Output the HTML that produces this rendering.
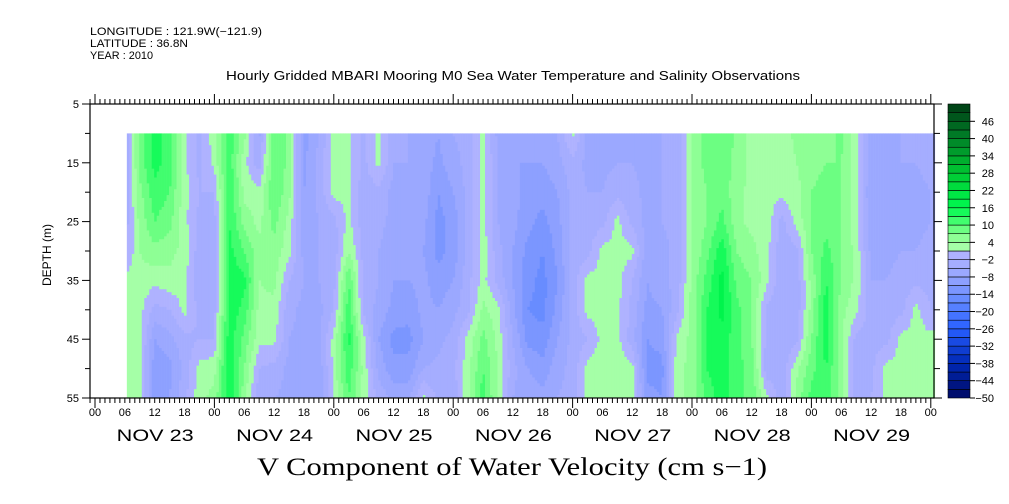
<!DOCTYPE html>
<html><head><meta charset="utf-8"><style>
body{margin:0;background:#fff}
svg{display:block;font-family:"Liberation Sans",sans-serif}
</style></head><body>
<svg id="chart" width="1009" height="504" viewBox="0 0 1009 504">
<g id="info" font-size="11" fill="#000">
<text x="90" y="35" textLength="172" lengthAdjust="spacingAndGlyphs">LONGITUDE : 121.9W(−121.9)</text>
<text x="90" y="47" textLength="98" lengthAdjust="spacingAndGlyphs">LATITUDE : 36.8N</text>
<text x="90" y="59" textLength="63" lengthAdjust="spacingAndGlyphs">YEAR : 2010</text>
</g>
<text x="226" y="80" font-size="12.5" textLength="574" lengthAdjust="spacingAndGlyphs">Hourly Gridded MBARI Mooring M0 Sea Water Temperature and Salinity Observations</text>
<g id="heat"></g>
<g id="axes"></g>
<g id="cbar"></g>
<text x="257" y="475" font-size="25" textLength="510" lengthAdjust="spacingAndGlyphs" font-family="'Liberation Serif',serif">V Component of Water Velocity (cm s−1)</text>
<text transform="translate(51,255) rotate(-90)" font-size="12" text-anchor="middle">DEPTH (m)</text>
</svg>
<script>
const hours=[6,9,12,15,18,21,24,27,30,33,36,39,42,45,48,51,54,57,60,63,66,69,72,75,78,81,84,87,90,93,96,99,102,105,108,111,114,117,120,123,126,129,132,135,138,141,144,147,150,153,156,159,162,165,168];
const depths=[10,15,20,25,30,35,40,45,50,55];
const vGrid=[
[-6,-5,-5,-4,-3,2,2,2,3,3],
[8,8,6,5,4,3,2,2,2,3],
[14,14,12,10,6,2,-3,-8,-10,-10],
[12,12,10,8,5,3,-2,-6,-9,-8],
[2,2,2,2,3,2,2,-3,-4,-3],
[-3,-3,-2,-3,-4,-5,-3,-2,2,3],
[3,2,-2,-3,-4,-5,-3,-2,3,5],
[12,12,13,13,14,15,15,15,16,16],
[5,2,3,6,10,14,12,9,7,5],
[-6,-4,2,3,5,4,3,2,-2,-4],
[10,10,10,8,6,5,3,2,-3,-5],
[6,6,5,3,2,-2,-4,-5,-6,-6],
[-9,-9,-8,-7,-6,-5,-6,-6,-5,-6],
[-5,-4,-4,-5,-5,-5,-6,-6,-7,-7],
[2,2,2,-3,-4,-3,-2,2,2,2],
[2,2,2,2,4,10,12,14,12,10],
[-3,-3,-4,-4,-3,-3,-3,2,3,3],
[2,2,-3,-4,-5,-5,-6,-8,-6,-3],
[-5,-5,-6,-6,-7,-8,-9,-12,-10,-6],
[-5,-5,-5,-6,-6,-8,-10,-12,-10,-6],
[-6,-6,-6,-7,-8,-7,-7,-8,-5,2],
[-8,-9,-11,-12,-12,-10,-8,-6,-4,-3],
[-5,-6,-8,-10,-10,-8,-6,-4,-3,-4],
[-4,-4,-4,-4,-4,-3,-3,2,3,3],
[2,2,2,2,3,2,5,8,10,12],
[-6,-5,-5,-5,-4,-3,2,3,4,3],
[-7,-8,-7,-7,-8,-8,-7,-5,-4,-5],
[-6,-8,-9,-10,-12,-13,-14,-12,-8,-6],
[-7,-8,-10,-12,-14,-15,-15,-13,-10,-7],
[-5,-6,-8,-9,-10,-11,-10,-8,-6,-5],
[2,-3,-4,-4,-4,-4,-4,-4,-4,-4],
[-6,-6,-5,-4,-3,2,2,-2,2,2],
[-7,-6,-5,-3,2,2,2,2,3,3],
[-6,-5,-3,2,2,2,2,2,3,3],
[-6,-5,-4,-3,2,-2,-3,-4,2,3],
[-7,-6,-6,-6,-7,-8,-9,-11,-12,-10],
[-5,-5,-5,-5,-6,-6,-8,-10,-12,-11],
[-4,-4,-4,-4,-4,-4,-3,2,3,3],
[5,5,4,4,4,5,5,5,5,5],
[8,8,7,7,9,11,13,13,13,11],
[10,9,9,11,15,17,17,15,15,15],
[6,6,5,5,7,9,11,11,11,11],
[3,3,3,3,5,7,7,7,9,9],
[2,2,2,3,2,2,-3,-3,-4,2],
[2,2,2,-3,-4,-4,-5,-5,-4,-4],
[5,4,3,2,-3,-4,-4,-3,3,5],
[5,5,7,7,7,5,5,7,9,11],
[5,7,9,9,11,13,15,15,13,13],
[8,7,7,7,7,7,5,5,5,5],
[2,2,2,2,3,3,2,-3,-4,-4],
[-6,-7,-8,-7,-6,-5,-4,-3,-3,-2],
[-6,-7,-8,-7,-6,-5,-4,-3,2,2],
[-5,-5,-6,-6,-5,-4,-3,2,2,2],
[-5,-5,-6,-6,-5,-3,2,2,2,2],
[-4,-4,-5,-5,-4,-3,-2,2,2,2]];
const dayLabels=["NOV 23","NOV 24","NOV 25","NOV 26","NOV 27","NOV 28","NOV 29"];
const hourLabels=["00","06","12","18"];
const depthTicks=[5,15,25,35,45,55];
const cbarLabels=[46,40,34,28,22,16,10,4,-2,-8,-14,-20,-26,-32,-38,-44,-50];

const NS="http://www.w3.org/2000/svg";
const X0=95,PXH=119.4/24,Y0=104,PXD=(398-104)/50;
const xS=h=>X0+h*PXH, yS=d=>Y0+(d-5)*PXD;
function mk(p,tag,at){const e=document.createElementNS(NS,tag);for(const k in at)e.setAttribute(k,at[k]);p.appendChild(e);return e;}
function lerp(a,b,t){return a+(b-a)*t;}
function mixc(c1,c2,t){return [0,1,2].map(i=>Math.round(lerp(c1[i],c2[i],t)));}
const gStops=[[1,[176,255,176]],[7,[130,255,140]],[16,[0,250,80]],[28,[0,200,50]],[40,[0,130,40]],[52,[0,60,20]]];
const bStops=[[1,[180,180,255]],[-8,[150,165,255]],[-17,[95,135,255]],[-26,[40,95,255]],[-38,[0,40,180]],[-50,[0,10,100]]];
function colorFor(v){
  const k=Math.floor((v+50)/3); const c=-50+k*3+1.5;
  let stops=c>=1?gStops:bStops;
  for(let i=0;i<stops.length-1;i++){const a=stops[i],b=stops[i+1];
    const lo=Math.min(a[0],b[0]),hi=Math.max(a[0],b[0]);
    if(c>=lo&&c<=hi){const t=(c-a[0])/(b[0]-a[0]);const m=mixc(a[1],b[1],t);return `rgb(${m})`;}}
  const m=stops[stops.length-1][1];return c>=1?`rgb(${c>52?m:gStops[0][1]})`:`rgb(${c<-50?m:bStops[0][1]})`;
}
function val(h,d){
  let i=0;while(i<hours.length-2&&h>hours[i+1])i++;
  let th=Math.max(0,Math.min(1,(h-hours[i])/(hours[i+1]-hours[i])));
  let j=0;while(j<depths.length-2&&d>depths[j+1])j++;
  let td=Math.max(0,Math.min(1,(d-depths[j])/(depths[j+1]-depths[j])));
  const a=lerp(vGrid[i][j],vGrid[i][j+1],td),b=lerp(vGrid[i+1][j],vGrid[i+1][j+1],td);
  return lerp(a,b,th);
}
const heat=document.getElementById('heat');
const hStart=6.4,hEnd=168.8,dh=0.5,dd=0.5;
for(let h=hStart;h<hEnd;h+=dh){
  const x=xS(h),w=xS(Math.min(h+dh,hEnd))-x;
  let runStart=10,runCol=null;
  for(let d=10;d<=55.001;d+=dd){
    const c=d<55?colorFor(val(h+dh/2,d+dd/2)):null;
    if(c!==runCol){
      if(runCol){const r=mk(heat,'rect',{x:x.toFixed(2),y:yS(runStart).toFixed(2),width:(w+0.3).toFixed(2),height:(yS(d)-yS(runStart)+0.3).toFixed(2),fill:runCol});
        
        }
      runStart=d;runCol=c;}
  }
}
const ax=document.getElementById('axes');
mk(ax,'rect',{x:90,y:104,width:844,height:294,fill:'none',stroke:'#000','stroke-width':1.2});
for(let hh=-1;hh<=168;hh++){
  const x=xS(hh);const day=hh%24===0;
  mk(ax,'line',{x1:x,y1:398,x2:x,y2:day?408:403,stroke:'#000'});
  mk(ax,'line',{x1:x,y1:104,x2:x,y2:day?94:99,stroke:'#000'});
  if(hh>=0&&hh%6===0){const t=mk(ax,'text',{x:x,y:416,'font-size':11,'text-anchor':'middle'});t.textContent=hourLabels[(hh/6)%4];
    
    }
}
dayLabels.forEach((s,i)=>{const t=mk(ax,'text',{x:xS(i*24+12)-38,y:441,'font-size':17,textLength:77,lengthAdjust:'spacingAndGlyphs'});t.textContent=s;
  
  });
for(let d=5;d<=55;d+=5){const y=yS(d);const maj=depthTicks.includes(d);
  mk(ax,'line',{x1:maj?82:85,y1:y,x2:90,y2:y,stroke:'#000'});
  mk(ax,'line',{x1:934,y1:y,x2:maj?942:940,y2:y,stroke:'#000'});}
depthTicks.forEach(d=>{const t=mk(ax,'text',{x:79,y:yS(d)+4,'font-size':11,'text-anchor':'end'});t.textContent=d;
  
  });
const cb=document.getElementById('cbar');
for(let k=0;k<34;k++){const lo=-50+k*3;const y1=398-(k+1)*(294/34);
  const r=mk(cb,'rect',{x:948,y:y1,width:22,height:294/34,fill:colorFor(lo+1.5),stroke:'#000','stroke-width':0.6});
  
  }
cbarLabels.forEach(v=>{const y=398-(v+50)*(294/102);
  mk(cb,'line',{x1:970,y1:y,x2:975,y2:y,stroke:'#000'});
  const t=mk(cb,'text',{x:994,y:y+4,'font-size':11,'text-anchor':'end'});t.textContent=v<0?'−'+(-v):v;
  
  });
</script>
</body></html>
